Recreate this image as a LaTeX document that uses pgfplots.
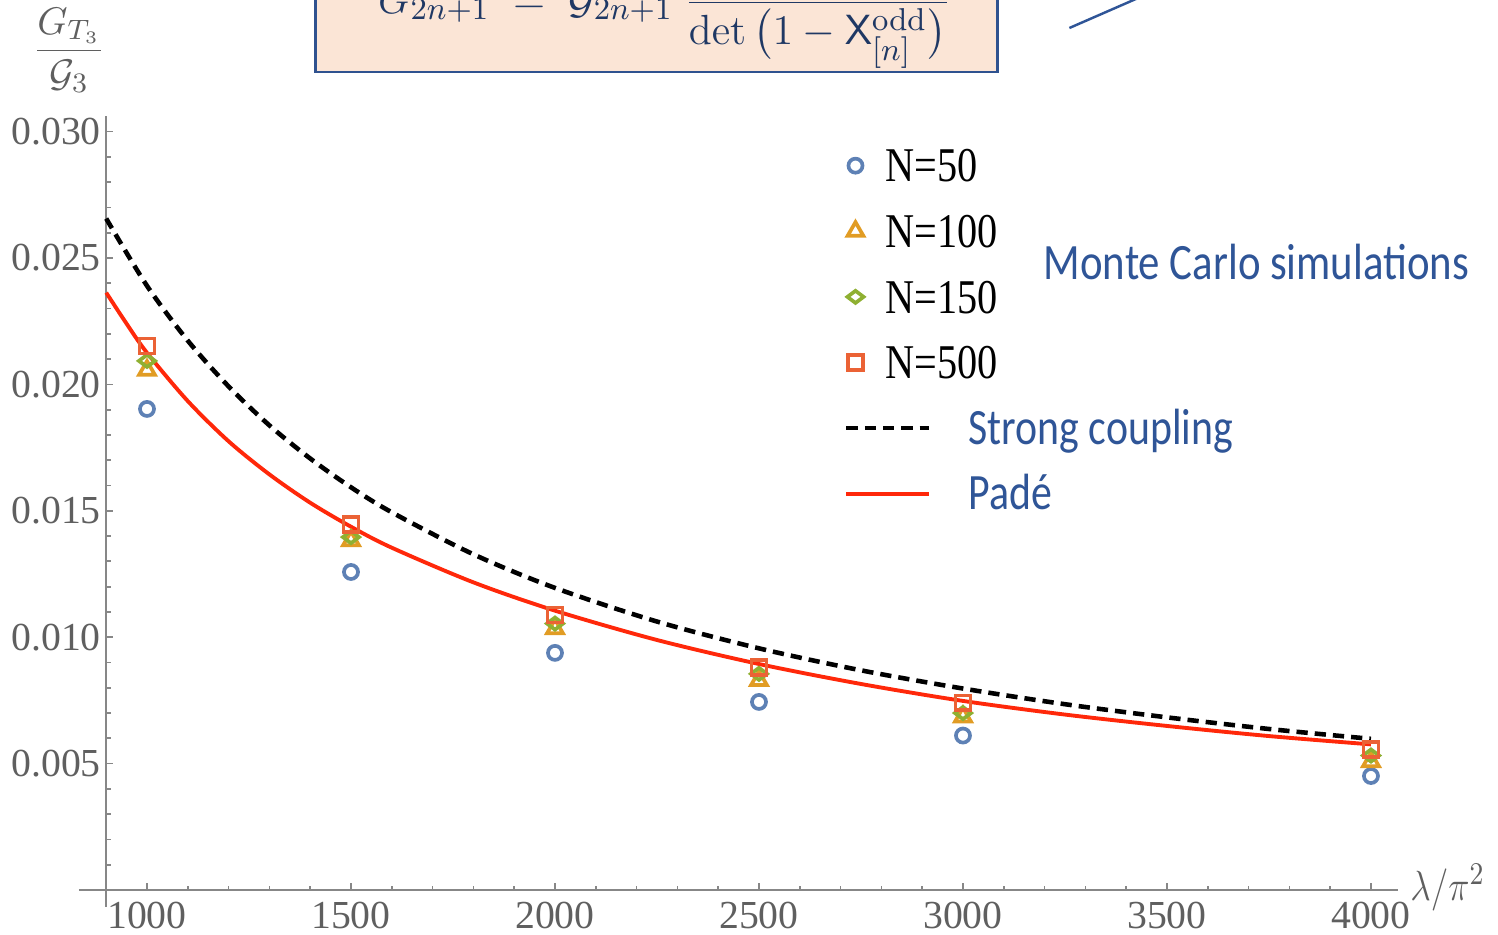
\documentclass[border=0pt]{standalone}
\usepackage{graphicx}
\usepackage{amsmath}
\usepackage{pgfplots}
\pgfplotsset{compat=1.18}
\usepackage[no-math]{fontspec}
\setmainfont{Liberation Serif}
\newfontfamily\calibri{Carlito}

\definecolor{mblue}{RGB}{94,129,181}
\definecolor{morange}{RGB}{225,156,36}
\definecolor{mgreen}{RGB}{143,176,50}
\definecolor{mred}{RGB}{235,98,53}
\definecolor{pade}{RGB}{255,40,10}
\definecolor{slideblue}{RGB}{47,85,151}
\definecolor{navy}{RGB}{31,56,100}
\definecolor{boxfill}{RGB}{251,229,214}
\definecolor{boxline}{RGB}{47,82,143}
\definecolor{axisgray}{RGB}{135,135,135}
\definecolor{labelgray}{RGB}{95,95,95}

% slide text is squeezed horizontally
\newcommand{\sq}[2]{\scalebox{#1}[1]{#2}}
\newcommand{\legN}[1]{\fontsize{13.8}{16}\selectfont\sq{0.83}{#1}}
\newcommand{\legS}[1]{\hspace{0.83cm}{\color{slideblue}\calibri\fontsize{14.5}{17}\selectfont\sq{0.82}{#1}}}

\pgfplotsset{
  markleg/.style={legend image code/.code={\draw[##1] plot coordinates {(0cm,0.07cm)};}},
  lineleg/.style={legend image code/.code={\draw[##1,overlay] (-0.09cm,0.07cm) -- (0.74cm,0.07cm);}},
}

\begin{document}
\begin{tikzpicture}

\begin{scope}[x=0.01cm,y=0.01cm]
% formula box, cut off by the top edge
\draw[boxline, line width=0.8pt, fill=boxfill] (316,60) rectangle (998,-72);
\node[navy, anchor=base east, inner sep=0pt, font=\fontsize{12.5}{15}\selectfont] at (952,-13)
  {$\displaystyle G_{2n+1} \;=\; \mathcal{G}_{2n+1}\;\frac{\vphantom{\det\bigl(1-\mathsf{X}^{\mathrm{odd}}_{[n]}\bigr)}}{\det\,\bigl(1-\mathsf{X}^{\mathrm{odd}}_{[n]}\bigr)}$};
\draw[slideblue, line width=0.7pt] (1070,-28) -- (1180,20);
\end{scope}

\begin{axis}[
  at={(1.062cm,-8.90cm)}, anchor=south west,
  scale only axis, width=12.917cm, height=7.736cm,
  xmin=900, xmax=4066, ymin=0, ymax=0.0306,
  axis x line*=bottom, axis y line*=left,
  axis line style={axisgray, line width=0.6pt},
  clip=false,
  tick align=inside,
  major tick length=0.07cm, minor tick length=0.045cm,
  every tick/.style={axisgray, line width=0.5pt},
  xtick={1000,1500,2000,2500,3000,3500,4000},
  minor xtick={1100,1200,...,3900},
  ytick={0.005,0.010,0.015,0.020,0.025,0.030},
  minor ytick={0.001,0.002,0.003,0.004,0.006,0.007,0.008,0.009,0.011,0.012,0.013,0.014,0.016,0.017,0.018,0.019,0.021,0.022,0.023,0.024,0.026,0.027,0.028,0.029},
  ticklabel style={labelgray, font=\fontsize{11.3}{13}\selectfont},
  /pgf/number format/assume math mode=true,
  xticklabel style={/pgf/number format/1000 sep={}},
  yticklabel style={xshift=2pt, /pgf/number format/.cd, fixed, fixed zerofill, precision=3},
  scaled y ticks=false,
  legend cell align=left,
  legend style={
    at={(axis cs:2715,0.0297)}, anchor=north west,
    draw=none, fill=none, inner sep=0pt, row sep=0pt, column sep=0.22cm,
    nodes={inner sep=0pt, text height=0.42cm, text depth=0.236cm},
  },
]

\addplot[only marks, mblue, mark=o, mark size=2pt, line width=1.05pt, markleg] coordinates {
  (1000,0.01903) (1500,0.01258) (2000,0.00938) (2500,0.00744) (3000,0.00611) (4000,0.00451)
};
\addlegendentry{\legN{N=50}}

\addplot[only marks, morange, mark=triangle, mark size=2.6pt, line width=1.05pt, markleg] coordinates {
  (1000,0.02056) (1500,0.01382) (2000,0.01034) (2500,0.00829) (3000,0.00685) (4000,0.00508)
};
\addlegendentry{\legN{N=100}}

\addplot[only marks, mgreen, mark=diamond, mark size=2.3pt, mark options={rotate=90}, line width=1.05pt, markleg] coordinates {
  (1000,0.02093) (1500,0.01396) (2000,0.01054) (2500,0.00855) (3000,0.00700) (4000,0.00532)
};
\addlegendentry{\legN{N=150}}

\addplot[only marks, mred, mark=square, mark size=2.1pt, line width=1.05pt, markleg] coordinates {
  (1000,0.02152) (1500,0.01446) (2000,0.01088) (2500,0.00880) (3000,0.00740) (4000,0.00556)
};
\addlegendentry{\legN{N=500}}

% strong coupling
\addplot[black, line width=1.3pt, dash pattern=on 3.2pt off 2pt, smooth, lineleg] coordinates {
  (900,0.02656) (1000,0.02390) (1100,0.02173) (1200,0.01992) (1300,0.01838)
  (1400,0.01707) (1500,0.01593) (1600,0.01494) (1800,0.01328) (2000,0.01195)
  (2250,0.01062) (2500,0.00956) (2750,0.00869) (3000,0.00797) (3250,0.00735)
  (3500,0.00683) (3750,0.00637) (4000,0.00598)
};
\addlegendentry{\legS{Strong coupling}}

% Pade
\addplot[pade, line width=1.1pt, smooth, lineleg] coordinates {
  (900,0.02363) (950,0.02240) (1000,0.02125) (1100,0.01934) (1200,0.01775)
  (1300,0.01644) (1400,0.01532) (1500,0.01437) (1600,0.01354) (1800,0.01217)
  (2000,0.01105) (2250,0.00989) (2500,0.00894) (2750,0.00815) (3000,0.00748)
  (3250,0.00694) (3500,0.00649) (3750,0.00609) (4000,0.00576)
};
\addlegendentry{\legS{Padé}}

% Mathematica-style axes run a little past the origin
\draw[axisgray, line width=0.6pt] (833,0) -- (900,0);
\draw[axisgray, line width=0.6pt] (900,0) -- (900,-0.00067);

\node[anchor=west, labelgray, font=\fontsize{12.5}{15}\selectfont] at (4066,0.0001) {\sq{0.85}{$\lambda/\pi^2$}};
\end{axis}

\begin{scope}[x=0.01cm,y=0.01cm]
\node[labelgray, font=\fontsize{11}{13}\selectfont] at (69,-50) {$\dfrac{G_{T_3}}{\mathcal{G}_3}$};
\node[anchor=west, slideblue, font=\calibri\fontsize{14.5}{17}\selectfont] at (1032,-262) {\sq{0.84}{Monte Carlo simulations}};
\end{scope}

\pgfresetboundingbox
\useasboundingbox (0,0) rectangle (14.98cm,-9.34cm);
\end{tikzpicture}
\end{document}
